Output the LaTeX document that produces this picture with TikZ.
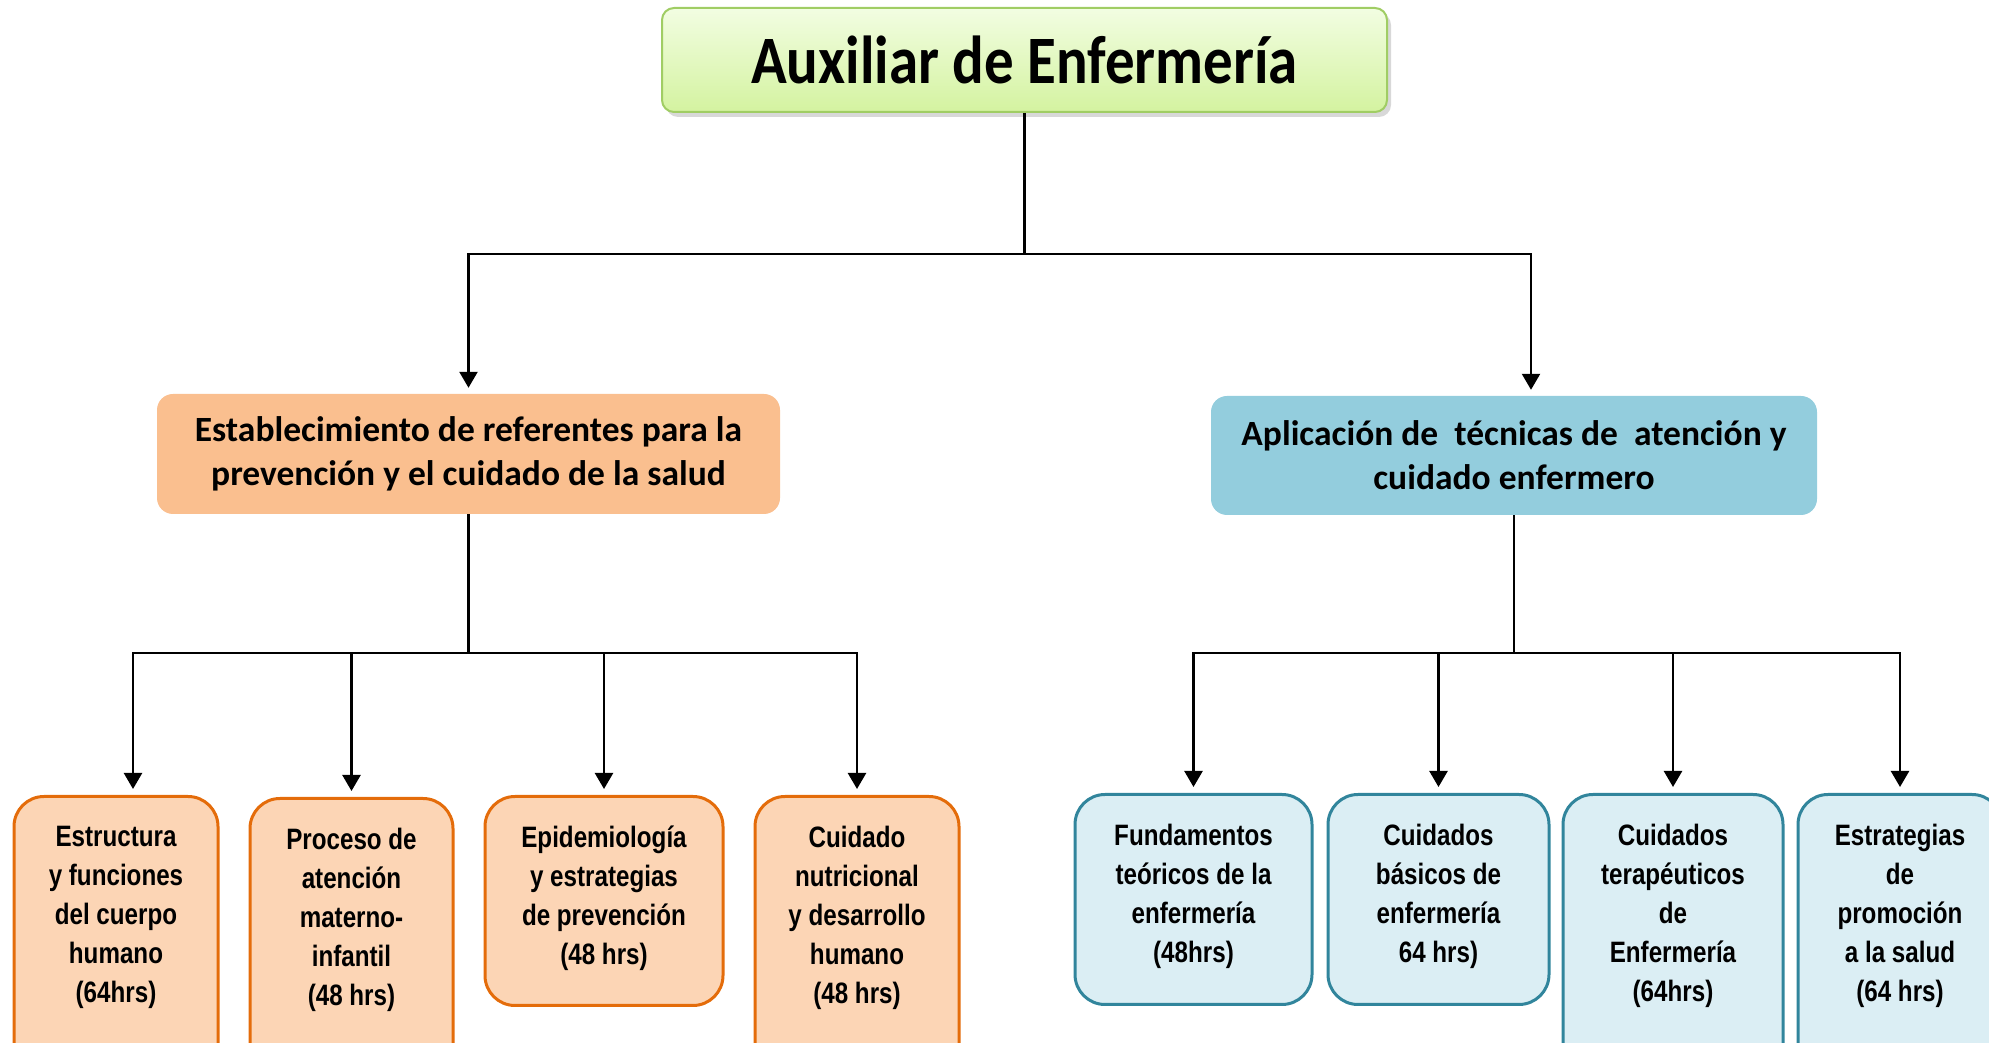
\documentclass[tikz,border=0pt]{standalone}
\usepackage{fontspec}
\newfontfamily\calib{Carlito}
\newfontfamily\narrowsf[FakeStretch=0.82]{Liberation Sans}
\usetikzlibrary{arrows.meta,shadows}
\definecolor{TitleTop}{RGB}{242,253,226}
\definecolor{TitleBot}{RGB}{212,243,160}
\definecolor{TitleLine}{RGB}{160,205,100}
\definecolor{MidOrange}{RGB}{250,191,143}
\definecolor{MidBlue}{RGB}{147,205,221}
\definecolor{LeafOrange}{RGB}{252,213,181}
\definecolor{EdgeOrange}{RGB}{228,108,10}
\definecolor{LeafBlue}{RGB}{219,238,244}
\definecolor{EdgeBlue}{RGB}{49,133,156}
\tikzset{
  titlebox/.style={draw=TitleLine, line width=2pt, rounded corners=12pt,
    top color=TitleTop, bottom color=TitleBot, minimum width=725pt, minimum height=104pt,
    drop shadow={shadow xshift=4pt, shadow yshift=-5pt, fill=black!30},
    font=\calib\bfseries\fontsize{59}{70}\selectfont},
  midbox/.style={rounded corners=16pt, inner sep=0pt, align=center,
    font=\calib\bfseries\fontsize{35.5}{44}\selectfont},
  leafbox/.style={rounded corners=30pt, line width=3pt, anchor=north, inner sep=0pt},
  oleaf/.style={leafbox, draw=EdgeOrange, fill=LeafOrange},
  bleaf/.style={leafbox, draw=EdgeBlue, fill=LeafBlue},
  leaftxt/.style={anchor=north, align=center, inner sep=0pt,
    font=\narrowsf\bfseries\fontsize{29.5}{39}\selectfont},
  conn/.style={line width=2.4pt},
  arr/.style={conn, -{Triangle[width=18pt,length=16pt]}, shorten >=6pt}
}
\begin{document}
\begin{tikzpicture}[x=1pt,y=1pt]
  \clip (0,0) rectangle (1989,1043);
  % top
  \node[titlebox] (title) at (1024.5,983) {\scalebox{1}[1.15]{Auxiliar de Enfermería}};
  % second level
  \node[midbox, fill=MidOrange, minimum width=623pt, minimum height=120pt] (m1) at (468.5,589)
    {Establecimiento de referentes para la\\prevención y el cuidado de la salud};
  \node[midbox, fill=MidBlue, minimum width=606pt, minimum height=119pt] (m2) at (1514,587.5)
    {Aplicación de\ \ técnicas de\ \ atención y\\cuidado enfermero};
  % leaves, left branch
  \node[oleaf, minimum width=204pt, minimum height=290pt] (l1) at (116,248) {};
  \node[oleaf, minimum width=203pt, minimum height=290pt] (l2) at (351.5,246) {};
  \node[oleaf, minimum width=238pt, minimum height=209pt] (l3) at (604,248) {};
  \node[oleaf, minimum width=204pt, minimum height=290pt] (l4) at (857,248) {};
  % leaves, right branch
  \node[bleaf, minimum width=237pt, minimum height=210pt] (l5) at (1193.5,250) {};
  \node[bleaf, minimum width=221pt, minimum height=210pt] (l6) at (1438.5,250) {};
  \node[bleaf, minimum width=220pt, minimum height=290pt] (l7) at (1673,250) {};
  \node[bleaf, minimum width=204pt, minimum height=290pt] (l8) at (1900,250) {};
  % leaf texts
  \node[leaftxt] (t1) at ([yshift=-31pt]l1.north) {Estructura\\y funciones\\del cuerpo\\humano\\(64hrs)};
  \node[leaftxt] (t2) at ([yshift=-31pt]l2.north) {Proceso de\\atención\\materno-\\infantil\\(48 hrs)};
  \node[leaftxt] (t3) at ([yshift=-31pt]l3.north) {Epidemiología\\y estrategias\\de prevención\\(48 hrs)};
  \node[leaftxt] (t4) at ([yshift=-31pt]l4.north) {Cuidado\\nutricional\\y desarrollo\\humano\\(48 hrs)};
  \node[leaftxt] (t5) at ([yshift=-31pt]l5.north) {Fundamentos\\teóricos de la\\enfermería\\(48hrs)};
  \node[leaftxt] (t6) at ([yshift=-31pt]l6.north) {Cuidados\\básicos de\\enfermería\\64 hrs)};
  \node[leaftxt] (t7) at ([yshift=-31pt]l7.north) {Cuidados\\terapéuticos\\de\\Enfermería\\(64hrs)};
  \node[leaftxt] (t8) at ([yshift=-31pt]l8.north) {Estrategias\\de\\promoción\\a la salud\\(64 hrs)};
  % connectors
  \coordinate (j0) at (1024.5,789);
  \coordinate (j1) at (468.5,390);
  \coordinate (j2) at (1514,390);
  \draw[conn] (title.south) -- (j0);
  \draw[arr] (j0) -| (m1.north);
  \draw[arr] (j0) -| ([xshift=17pt]m2.north);
  \draw[conn] (m1.south) -- (j1);
  \draw[arr] (j1) -| ([xshift=17pt]l1.north);
  \foreach \n in {l2,l3,l4}
    \draw[arr] (j1) -| (\n.north);
  \draw[conn] (m2.south) -- (j2);
  \foreach \n in {l5,l6,l7,l8}
    \draw[arr] (j2) -| (\n.north);
\end{tikzpicture}
\end{document}
